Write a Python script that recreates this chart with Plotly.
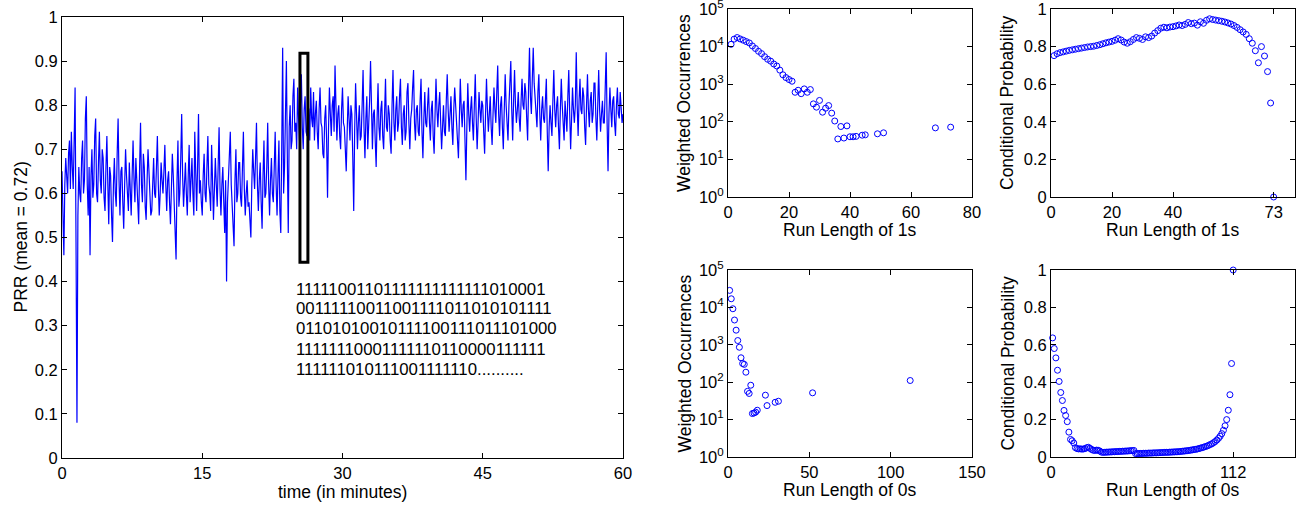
import plotly.graph_objects as go

# ---------------- data ----------------
prr_values = [
    0.65, 0.58, 0.46, 0.62, 0.68, 0.64, 0.60, 0.69, 0.72, 0.61,
    0.74, 0.66, 0.61, 0.72, 0.84, 0.49, 0.08, 0.55, 0.66, 0.60,
    0.58, 0.68, 0.72, 0.60, 0.63, 0.77, 0.82, 0.62, 0.55, 0.66,
    0.46, 0.64, 0.70, 0.59, 0.62, 0.73, 0.77, 0.60, 0.58, 0.67,
    0.74, 0.63, 0.60, 0.70, 0.68, 0.59, 0.56, 0.66, 0.73, 0.62,
    0.53, 0.66, 0.64, 0.55, 0.49, 0.62, 0.68, 0.60, 0.57, 0.69,
    0.77, 0.63, 0.55, 0.65, 0.66, 0.58, 0.52, 0.62, 0.70, 0.64,
    0.60, 0.56, 0.67, 0.62, 0.55, 0.64, 0.72, 0.63, 0.58, 0.68,
    0.64, 0.58, 0.53, 0.66, 0.76, 0.62, 0.58, 0.69, 0.66, 0.57,
    0.54, 0.63, 0.70, 0.65, 0.61, 0.55, 0.56, 0.64, 0.68, 0.60,
    0.59, 0.66, 0.73, 0.62, 0.55, 0.60, 0.67, 0.63, 0.60, 0.65,
    0.71, 0.62, 0.56, 0.63, 0.65, 0.58, 0.53, 0.61, 0.69, 0.64,
    0.58, 0.52, 0.45, 0.63, 0.72, 0.57, 0.60, 0.68, 0.78, 0.64,
    0.57, 0.62, 0.67, 0.60, 0.55, 0.64, 0.71, 0.58, 0.62, 0.68,
    0.60, 0.55, 0.74, 0.65, 0.56, 0.66, 0.78, 0.60, 0.63, 0.58,
    0.55, 0.64, 0.69, 0.60, 0.58, 0.66, 0.73, 0.62, 0.60, 0.56,
    0.71, 0.63, 0.54, 0.61, 0.68, 0.62, 0.57, 0.66, 0.75, 0.61,
    0.55, 0.62, 0.66, 0.58, 0.51, 0.63, 0.40, 0.58, 0.64, 0.70,
    0.74, 0.62, 0.56, 0.52, 0.48, 0.63, 0.70, 0.58, 0.60, 0.67,
    0.67, 0.59, 0.57, 0.66, 0.74, 0.61, 0.55, 0.60, 0.63, 0.57,
    0.58, 0.54, 0.50, 0.62, 0.70, 0.65, 0.61, 0.68, 0.76, 0.62,
    0.56, 0.63, 0.67, 0.58, 0.52, 0.64, 0.72, 0.59, 0.60, 0.66,
    0.76, 0.62, 0.55, 0.63, 0.68, 0.60, 0.58, 0.66, 0.74, 0.62,
    0.55, 0.64, 0.72, 0.56, 0.51, 0.70, 0.93, 0.60, 0.66, 0.78,
    0.90, 0.68, 0.51, 0.75, 0.80, 0.70, 0.72, 0.82, 0.86, 0.74,
    0.76, 0.70, 0.84, 0.77, 0.72, 0.80, 0.87, 0.75, 0.70, 0.79,
    0.82, 0.74, 0.73, 0.80, 0.79, 0.72, 0.84, 0.77, 0.75, 0.83,
    0.72, 0.78, 0.81, 0.74, 0.70, 0.79, 0.84, 0.76, 0.75, 0.69,
    0.68, 0.77, 0.80, 0.72, 0.59, 0.74, 0.84, 0.78, 0.73, 0.80,
    0.82, 0.74, 0.89, 0.80, 0.72, 0.78, 0.80, 0.73, 0.70, 0.79,
    0.84, 0.76, 0.75, 0.70, 0.65, 0.74, 0.82, 0.77, 0.72, 0.80,
    0.78, 0.68, 0.56, 0.74, 0.85, 0.78, 0.70, 0.76, 0.80, 0.72,
    0.73, 0.80, 0.88, 0.75, 0.68, 0.77, 0.82, 0.70, 0.74, 0.81,
    0.90, 0.76, 0.70, 0.78, 0.79, 0.72, 0.66, 0.77, 0.85, 0.75,
    0.72, 0.79, 0.81, 0.73, 0.70, 0.78, 0.86, 0.75, 0.74, 0.80,
    0.78, 0.72, 0.69, 0.80, 0.88, 0.76, 0.72, 0.79, 0.82, 0.74,
    0.76, 0.82, 0.86, 0.75, 0.71, 0.78, 0.80, 0.72, 0.74, 0.83,
    0.85, 0.76, 0.70, 0.77, 0.79, 0.84, 0.88, 0.76, 0.72, 0.79,
    0.80, 0.74, 0.73, 0.81, 0.86, 0.74, 0.68, 0.77, 0.83, 0.76,
    0.75, 0.80, 0.84, 0.76, 0.72, 0.79, 0.81, 0.73, 0.69, 0.78,
    0.86, 0.79, 0.75, 0.80, 0.83, 0.76, 0.70, 0.75, 0.80, 0.74,
    0.73, 0.81, 0.87, 0.79, 0.74, 0.78, 0.82, 0.75, 0.71, 0.79,
    0.84, 0.80, 0.77, 0.72, 0.68, 0.78, 0.86, 0.79, 0.75, 0.80,
    0.81, 0.72, 0.63, 0.75, 0.85, 0.78, 0.74, 0.79, 0.82, 0.76,
    0.72, 0.80, 0.87, 0.77, 0.70, 0.76, 0.83, 0.79, 0.76, 0.81,
    0.80, 0.74, 0.69, 0.78, 0.86, 0.79, 0.74, 0.78, 0.82, 0.75,
    0.71, 0.78, 0.84, 0.79, 0.76, 0.83, 0.89, 0.78, 0.73, 0.80,
    0.82, 0.75, 0.70, 0.79, 0.87, 0.80, 0.77, 0.72, 0.80, 0.85,
    0.90, 0.79, 0.72, 0.81, 0.88, 0.80, 0.76, 0.79, 0.83, 0.77,
    0.74, 0.81, 0.86, 0.80, 0.79, 0.85, 0.83, 0.77, 0.72, 0.84,
    0.93, 0.82, 0.78, 0.86, 0.93, 0.85, 0.81, 0.76, 0.75, 0.83,
    0.87, 0.78, 0.72, 0.79, 0.82, 0.77, 0.76, 0.81, 0.86, 0.74,
    0.65, 0.75, 0.80, 0.76, 0.73, 0.81, 0.88, 0.79, 0.75, 0.80,
    0.82, 0.75, 0.70, 0.79, 0.86, 0.80, 0.77, 0.72, 0.81, 0.77,
    0.74, 0.82, 0.88, 0.78, 0.70, 0.77, 0.84, 0.79, 0.76, 0.80,
    0.92, 0.80, 0.73, 0.81, 0.86, 0.79, 0.78, 0.84, 0.82, 0.75,
    0.71, 0.80, 0.87, 0.79, 0.75, 0.81, 0.83, 0.76, 0.78, 0.85,
    0.85, 0.77, 0.72, 0.80, 0.88, 0.79, 0.74, 0.78, 0.81, 0.76,
    0.76, 0.84, 0.92, 0.76, 0.65, 0.78, 0.84, 0.79, 0.75, 0.81,
    0.82, 0.76, 0.73, 0.80, 0.84, 0.78, 0.77, 0.83, 0.80, 0.76,
    0.78,
]
sample_step_min = 0.1
prr_time = [i * sample_step_min for i in range(len(prr_values))]

binary_lines = [
    "11111001101111111111111010001",
    "00111110011001111011010101111",
    "01101010010111100111011101000",
    "11111110001111110110000111111",
    "111111010111001111110..........",
]
binary_line_y = [0.383, 0.338, 0.293, 0.245, 0.200]
binary_x = 24.8
box_t = [25.45, 26.3]
box_prr = [0.444, 0.918]

# run lengths of 1s: weighted occurrences
ones_len = [1, 2, 3, 4, 5, 6, 7, 8, 9, 10, 11, 12, 13, 14, 15, 16, 17, 18, 19, 20,
            21, 22, 23, 24, 25, 26, 27, 28, 29, 30, 31, 32, 33, 34, 35, 36, 37, 38,
            39, 40, 41, 42, 44, 45, 49, 51, 68, 73]
ones_occ = [11500, 15800, 17400, 16000, 14800, 13600, 12500, 10400, 8900, 7500,
            6500, 5400, 4600, 4100, 3450, 3050, 2370, 1780, 1500, 1330,
            1200, 610, 690, 560, 750, 610, 720, 300, 245, 370,
            180, 230, 270, 170, 105, 35, 75, 37, 78, 40,
            40, 41, 44, 45, 48, 51, 69, 72]

# run lengths of 1s: conditional probability (x = 1..73)
ones_cond = [
    0.752, 0.762, 0.768, 0.772, 0.776, 0.780, 0.783, 0.786, 0.789, 0.792,
    0.795, 0.798, 0.800, 0.802, 0.806, 0.810, 0.815, 0.820, 0.824, 0.828,
    0.834, 0.842, 0.835, 0.824, 0.818, 0.826, 0.838, 0.848, 0.844, 0.838,
    0.852, 0.848, 0.856, 0.872, 0.885, 0.898, 0.903, 0.900, 0.904, 0.906,
    0.910, 0.915, 0.912, 0.918, 0.928, 0.922, 0.925, 0.914, 0.932, 0.924,
    0.940, 0.948, 0.944, 0.941, 0.938, 0.935, 0.931, 0.926, 0.920, 0.912,
    0.902, 0.890, 0.878, 0.865, 0.842, 0.818, 0.778, 0.714, 0.800, 0.750,
    0.667, 0.500, 0.000,
]
ones_cond_len = list(range(1, len(ones_cond) + 1))

# run lengths of 0s: weighted occurrences
zeros_len = [1, 2, 3, 4, 5, 6, 7, 8, 9, 10, 11, 12, 13, 14, 15, 16, 17, 18,
             23, 24, 29, 31, 52, 112]
zeros_occ = [28500, 17000, 9200, 4600, 2460, 1300, 860, 450, 316, 300, 185, 57,
             50, 83, 14.5, 15, 15.8, 17.8, 45, 23.7, 29, 31, 52, 111]

# run lengths of 0s: conditional probability (x = 1..112)
zeros_cond = [
    0.637, 0.580, 0.530, 0.464, 0.404, 0.345, 0.302, 0.249, 0.222, 0.189,
    0.133, 0.094, 0.087, 0.075, 0.050, 0.045, 0.043, 0.044, 0.042, 0.043,
    0.045, 0.050, 0.052, 0.046, 0.040, 0.036, 0.035, 0.037, 0.036, 0.032,
    0.026, 0.025, 0.025, 0.026, 0.026, 0.027, 0.027, 0.028, 0.028, 0.029,
    0.029, 0.030, 0.030, 0.031, 0.031, 0.032, 0.032, 0.033, 0.034, 0.034,
    0.035, 0.018, 0.018, 0.019, 0.019, 0.019, 0.020, 0.020, 0.020, 0.021,
    0.021, 0.021, 0.022, 0.022, 0.022, 0.023, 0.023, 0.024, 0.024, 0.025,
    0.025, 0.025, 0.026, 0.026, 0.027, 0.027, 0.028, 0.028, 0.029, 0.030,
    0.031, 0.032, 0.033, 0.034, 0.035, 0.037, 0.038, 0.040, 0.041, 0.043,
    0.045, 0.048, 0.050, 0.053, 0.056, 0.059, 0.063, 0.067, 0.071, 0.077,
    0.083, 0.091, 0.100, 0.111, 0.125, 0.143, 0.167, 0.200, 0.250, 0.333,
    0.500, 1.000,
]
zeros_cond_len = list(range(1, len(zeros_cond) + 1))

log_tickvals = [1, 10, 100, 1000, 10000, 100000]
log_ticktext = ["10<sup>0</sup>", "10<sup>1</sup>", "10<sup>2</sup>",
                "10<sup>3</sup>", "10<sup>4</sup>", "10<sup>5</sup>"]

# ---------------- figure ----------------
W, H = 1298, 506
FONT = "Liberation Sans, Arial, Helvetica, sans-serif"
BLUE = "#0000FF"
TICK_SIZE = 16.5
TITLE_SIZE = 17.5


def dom_x(a, b):
    return [a / W, b / W]


def dom_y(top, bottom):
    return [1 - bottom / H, 1 - top / H]


fig = go.Figure()

fig.add_trace(go.Scatter(x=prr_time, y=prr_values, mode="lines",
                         line=dict(color=BLUE, width=1.2), xaxis="x", yaxis="y",
                         showlegend=False, hoverinfo="skip"))

marker = dict(symbol="circle-open", size=6, color=BLUE, line=dict(width=1, color=BLUE))
fig.add_trace(go.Scatter(x=ones_len, y=ones_occ, mode="markers", marker=marker,
                         xaxis="x2", yaxis="y2", showlegend=False))
fig.add_trace(go.Scatter(x=ones_cond_len, y=ones_cond, mode="markers", marker=marker,
                         xaxis="x3", yaxis="y3", showlegend=False, cliponaxis=False))
fig.add_trace(go.Scatter(x=zeros_len, y=zeros_occ, mode="markers", marker=marker,
                         xaxis="x4", yaxis="y4", showlegend=False))
fig.add_trace(go.Scatter(x=zeros_cond_len, y=zeros_cond, mode="markers", marker=marker,
                         xaxis="x5", yaxis="y5", showlegend=False, cliponaxis=False))

axis_common = dict(showline=True, linecolor="black", linewidth=1, mirror="ticks",
                   ticks="inside", ticklen=5, tickcolor="black", showgrid=False,
                   zeroline=False, automargin=False, ticklabeloverflow="allow",
                   tickfont=dict(size=TICK_SIZE, color="black"))

layout = dict(
    width=W, height=H, margin=dict(l=0, r=0, t=0, b=0, autoexpand=False),
    paper_bgcolor="white", plot_bgcolor="white",
    font=dict(family=FONT, color="black"),
    showlegend=False,
)

left_x = (62, 623)
left_y = (17, 458)
top_y = (9, 197)
bot_y = (270, 457)
lx = (728, 972)
rx = (1051, 1295)

layout["xaxis"] = dict(axis_common, domain=dom_x(*left_x), range=[0, 60],
                       tickvals=[0, 15, 30, 45, 60], anchor="y")
layout["yaxis"] = dict(axis_common, domain=dom_y(*left_y), range=[0, 1], dtick=0.1,
                       tickformat=".1~f", anchor="x")
layout["xaxis2"] = dict(axis_common, domain=dom_x(*lx), range=[0, 80], dtick=20, anchor="y2")
layout["yaxis2"] = dict(axis_common, domain=dom_y(*top_y), type="log", range=[0, 5],
                        tickvals=log_tickvals, ticktext=log_ticktext, anchor="x2")
layout["xaxis3"] = dict(axis_common, domain=dom_x(*rx), range=[0, 80],
                        tickvals=[0, 20, 40, 73], anchor="y3")
layout["yaxis3"] = dict(axis_common, domain=dom_y(*top_y), range=[0, 1], dtick=0.2,
                        tickformat=".1~f", anchor="x3")
layout["xaxis4"] = dict(axis_common, domain=dom_x(*lx), range=[0, 150], dtick=50, anchor="y4")
layout["yaxis4"] = dict(axis_common, domain=dom_y(*bot_y), type="log", range=[0, 5],
                        tickvals=log_tickvals, ticktext=log_ticktext, anchor="x4")
layout["xaxis5"] = dict(axis_common, domain=dom_x(*rx), range=[0, 150],
                        tickvals=[0, 112], anchor="y5")
layout["yaxis5"] = dict(axis_common, domain=dom_y(*bot_y), range=[0, 1], dtick=0.2,
                        tickformat=".1~f", anchor="x5")

fig.update_layout(**layout)

# axis titles (placed as paper annotations for exact positioning)
titles = [
    ("PRR (mean = 0.72)", 20, (left_y[0] + left_y[1]) / 2, -90),
    ("time (in minutes)", (left_x[0] + left_x[1]) / 2, 492, 0),
    ("Weighted Occurrences", 684, (top_y[0] + top_y[1]) / 2, -90),
    ("Run Length of 1s", (lx[0] + lx[1]) / 2, 230, 0),
    ("Conditional Probability", 1007, (top_y[0] + top_y[1]) / 2, -90),
    ("Run Length of 1s", (rx[0] + rx[1]) / 2, 230, 0),
    ("Weighted Occurrences", 684, (bot_y[0] + bot_y[1]) / 2, -90),
    ("Run Length of 0s", (lx[0] + lx[1]) / 2, 490, 0),
    ("Conditional Probability", 1007, (bot_y[0] + bot_y[1]) / 2, -90),
    ("Run Length of 0s", (rx[0] + rx[1]) / 2, 490, 0),
]
for text, px, py, ang in titles:
    fig.add_annotation(x=px / W, y=1 - py / H, xref="paper", yref="paper", text=text,
                       showarrow=False, textangle=ang, xanchor="center", yanchor="middle",
                       font=dict(size=TITLE_SIZE, color="black", family=FONT))

fig.add_shape(type="rect", xref="x", yref="y", x0=box_t[0], x1=box_t[1],
              y0=box_prr[0], y1=box_prr[1], line=dict(color="black", width=3))

for text, yv in zip(binary_lines, binary_line_y):
    fig.add_annotation(x=binary_x, y=yv, xref="x", yref="y", text=text,
                       showarrow=False, xanchor="left", yanchor="middle",
                       font=dict(size=16.8, color="black", family=FONT))

fig.write_html(
    "out.html",
    config={"displayModeBar": False},
    post_script="document.body.style.margin='0px';document.body.style.padding='0px';"
                "document.documentElement.style.overflow='hidden';",
)
